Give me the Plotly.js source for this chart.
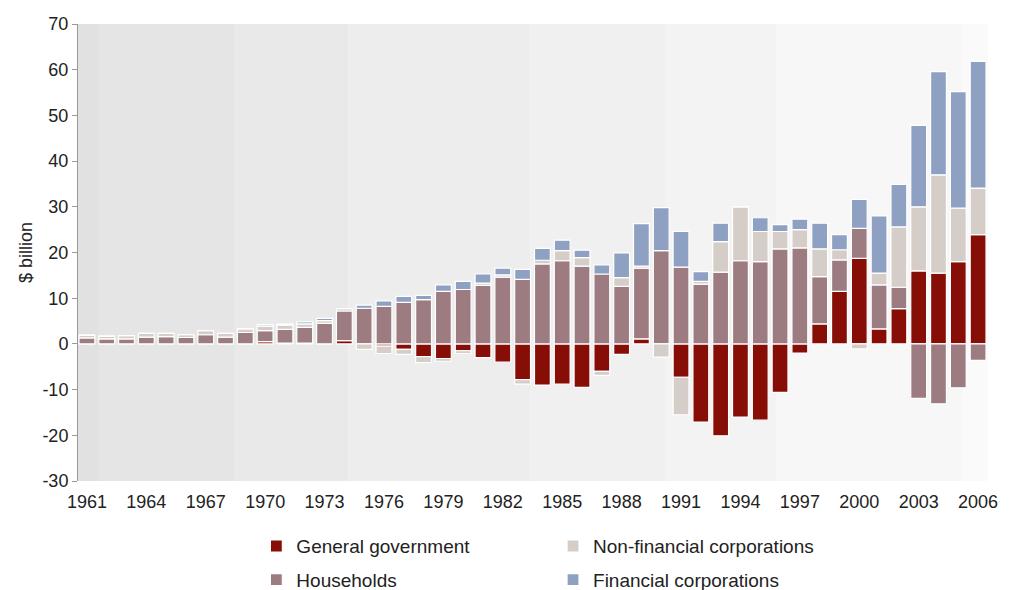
<!DOCTYPE html>
<html>
<head>
<meta charset="utf-8">
<script src="https://cdn.plot.ly/plotly-3.0.1.min.js"></script>
<style>
  html, body { margin: 0; padding: 0; background: #fff; }
  #chart { width: 1015px; height: 590px; }
</style>
</head>
<body>
<div id="chart"></div>
<script>
// years on the x axis
const years = [];
for (let y = 1961; y <= 2006; y++) years.push(y);

// $ billion
const generalGovernment = [
  0, 0, 0, 0, 0, 0, 0, 0, 0, 0.5,
  0.2, 0.2, 0, 0.7, 0, -0.5, -1.2, -2.8, -3.2, -1.5,
  -3.0, -4.0, -7.8, -9.0, -8.8, -9.5, -6.0, -2.3, 1.1, 0,
  -7.3, -17.1, -20.1, -16.0, -16.7, -10.6, -2.0, 4.4, 11.5, 18.7,
  3.3, 7.7, 16.0, 15.5, 18.0, 23.9
];
const households = [
  1.3, 1.1, 1.1, 1.5, 1.6, 1.4, 2.0, 1.5, 2.5, 2.4,
  3.0, 3.4, 4.5, 6.5, 7.8, 8.2, 9.1, 9.7, 11.5, 11.9,
  12.8, 14.6, 14.1, 17.5, 18.2, 17.0, 15.3, 12.6, 15.5, 20.4,
  16.8, 13.1, 15.7, 18.2, 18.0, 20.8, 21.0, 10.3, 6.9, 6.6,
  9.6, 4.7, -11.9, -13.1, -9.6, -3.6
];
const nonFinancialCorps = [
  0.6, 0.6, 0.7, 0.8, 0.7, 0.6, 0.9, 0.8, 0.8, 1.0,
  0.9, 0.8, 0.6, 0.5, -1.2, -1.6, -1.1, -1.3, -0.6, -0.6,
  0.5, 0.5, -1.0, 0.8, 2.2, 1.9, -0.9, 1.9, 0.4, -2.9,
  -8.2, 0.6, 6.7, 11.8, 6.6, 3.8, 4.0, 6.1, 2.2, -1.1,
  2.6, 13.2, 14.0, 21.5, 11.7, 10.2
];
const financialCorps = [
  0, 0, 0, 0, 0, 0, 0, 0, 0, 0.3,
  0.3, 0.4, 0.5, 0, 0.7, 1.2, 1.3, 0.9, 1.4, 1.8,
  2.0, 1.5, 2.2, 2.6, 2.3, 1.6, 2.0, 5.4, 9.3, 9.4,
  7.8, 2.1, 4.0, 0, 3.0, 1.5, 2.3, 5.6, 3.3, 6.3,
  12.5, 9.3, 17.8, 22.6, 25.5, 27.7
];

const labelYears = years.filter(y => (y - 1961) % 3 === 0);
const gapTicks = labelYears.slice(1).map(y => y - 0.5); // small marks on the zero line
const yTicks = [-30, -20, -10, 0, 10, 20, 30, 40, 50, 60, 70];

const font = '"Liberation Sans", Arial, sans-serif';
const xRange = [1960.55, 2006.5];

function series(name, values, color, legend) {
  return {
    type: 'bar',
    name: name,
    x: years,
    y: values,
    legend: legend,
    legendgroup: name,
    marker: { color: color, line: { color: '#ffffff', width: 1.2 } },
    hovertemplate: '%{x}: %{y}<extra>' + name + '</extra>'
  };
}

const traces = [
  series('General government', generalGovernment, '#870d07', 'legend'),
  series('Households', households, '#9c7c81', 'legend'),
  series('Non-financial corporations', nonFinancialCorps, '#d5cdc8', 'legend2'),
  series('Financial corporations', financialCorps, '#8fa1c2', 'legend2')
];

// soft grey bands behind the bars, darker on the left
const bandEdges = [1960.55, 1961.65, 1968.47, 1974.2, 1983.4, 1990.2, 1995.8, 2005.2];
const bandColors = ['#e1e1e1', '#e5e5e5', '#e9e9e9', '#ededed', '#f0f0f0', '#f3f3f3', '#f7f7f7'];
const shapes = bandColors.map((c, i) => ({
  type: 'rect', layer: 'below', xref: 'x', yref: 'paper',
  x0: bandEdges[i], x1: bandEdges[i + 1], y0: 0, y1: 1,
  fillcolor: c, line: { width: 0 }
}));

const legendBase = {
  orientation: 'v',
  xanchor: 'left', yanchor: 'top',
  y: -0.101,
  font: { family: font, size: 19, color: '#222' },
  bgcolor: 'rgba(0,0,0,0)',
  tracegroupgap: 6,
  itemwidth: 30
};

const layout = {
  width: 1015,
  height: 590,
  margin: { l: 78, r: 27, t: 24, b: 109, autoexpand: false },
  paper_bgcolor: '#ffffff',
  plot_bgcolor: '#fafafa',
  barmode: 'relative',
  bargap: 0.2,
  font: { family: font, size: 18, color: '#222' },
  showlegend: true,
  legend: Object.assign({}, legendBase, { x: 0.196 }),
  legend2: Object.assign({}, legendBase, { x: 0.522 }),
  shapes: shapes,
  xaxis: {
    range: xRange,
    tickvals: labelYears,
    ticktext: labelYears.map(String),
    ticks: '',
    showline: false,
    showgrid: false,
    zeroline: false,
    ticklabelstandoff: 8,
    tickfont: { family: font, size: 18, color: '#222' }
  },
  xaxis2: {
    overlaying: 'x',
    matches: 'x',
    range: xRange,
    anchor: 'free',
    position: 0.3,
    tickvals: gapTicks,
    showticklabels: false,
    ticks: 'outside',
    ticklen: 8,
    tickcolor: '#aaaaaa',
    showline: true,
    linecolor: '#b8b8b8',
    linewidth: 1,
    showgrid: false,
    zeroline: false,
    layer: 'below traces'
  },
  yaxis: {
    range: [-30, 70],
    tickvals: yTicks,
    ticktext: yTicks.map(String),
    ticks: 'outside',
    ticklen: 5,
    tickcolor: '#999999',
    showline: true,
    linecolor: '#999999',
    linewidth: 1,
    showgrid: false,
    zeroline: false,
    tickfont: { family: font, size: 18, color: '#222' },
    title: { text: '$ billion', font: { family: font, size: 18, color: '#222' } }
  }
};

Plotly.newPlot('chart', traces, layout, { displayModeBar: false, staticPlot: true });
</script>
</body>
</html>
